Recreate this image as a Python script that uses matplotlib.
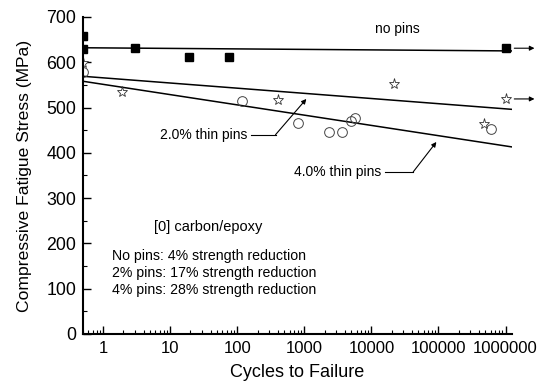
import matplotlib
matplotlib.use("Agg")
import matplotlib.pyplot as plt
from matplotlib.ticker import LogLocator, MultipleLocator, FixedLocator, NullFormatter

plt.rcParams['font.family'] = ['Liberation Sans', 'DejaVu Sans']

# Data
nopin_x = [0.5, 0.5, 3.0, 19, 76, 1.0e6]
nopin_y = [658, 629, 631, 612, 611, 631]
pin2_x = [0.5, 1.9, 410, 22000, 470000, 1.0e6]
pin2_y = [598, 534, 517, 552, 464, 519]
pin4_x = [0.5, 118, 810, 2300, 3700, 5000, 5600, 600000]
pin4_y = [579, 514, 466, 446, 446, 470, 477, 452]

fit_x = [0.5, 1.25e6]
nopin_fit = [632, 625]
pin2_fit = [569, 496]
pin4_fit = [558, 413]

xticks = [1, 10, 100, 1000, 10000, 100000, 1000000]
xticklabels = ['1', '10', '100', '1000', '10000', '100000', '1000000']

fig = plt.figure(figsize=(5.5, 3.89), dpi=100)
ax = fig.add_axes([0.151, 0.1414, 0.780, 0.815])

ax.plot(fit_x, nopin_fit, color='black', lw=1.1)
ax.plot(fit_x, pin2_fit, color='black', lw=1.1)
ax.plot(fit_x, pin4_fit, color='black', lw=1.1)

ax.plot(nopin_x, nopin_y, 's', color='black', ms=6, ls='none')
ax.plot(pin2_x, pin2_y, '*', mfc='white', mec='#333333', mew=0.6, ms=8, ls='none')
ax.plot(pin4_x, pin4_y, 'o', mfc='none', mec='#444444', mew=0.7, ms=7, ls='none')

ax.set_xscale('log')
ax.set_xlim(0.5, 1.25e6)
ax.set_ylim(0, 700)
ax.xaxis.set_major_locator(FixedLocator(xticks))
ax.set_xticklabels(xticklabels)
ax.xaxis.set_minor_locator(LogLocator(base=10, subs=range(2, 10), numticks=20))
ax.xaxis.set_minor_formatter(NullFormatter())
ax.yaxis.set_major_locator(MultipleLocator(100))
ax.yaxis.set_minor_locator(MultipleLocator(50))

for s in ['top', 'right']:
    ax.spines[s].set_visible(False)
for s in ['left', 'bottom']:
    ax.spines[s].set_linewidth(1.5)

ax.tick_params(which='major', direction='in', length=6, width=1.0, pad=5)
ax.tick_params(axis='x', which='major', labelsize=12)
ax.tick_params(axis='y', which='major', labelsize=12.8)
ax.tick_params(which='minor', direction='in', length=3, width=0.8)

ax.set_xlabel('Cycles to Failure', fontsize=13, labelpad=6)
ax.set_ylabel('Compressive Fatigue Stress (MPa)', fontsize=12.6, labelpad=10)

# runout arrows
ap = dict(arrowstyle='-|>', lw=0.8, color='black', mutation_scale=7, shrinkA=0, shrinkB=0)
ax.annotate('', xy=(2.7e6, 631), xytext=(1.35e6, 631), arrowprops=ap, annotation_clip=False)
ax.annotate('', xy=(2.7e6, 519), xytext=(1.35e6, 519), arrowprops=ap, annotation_clip=False)

# labels
ax.text(24500, 673, 'no pins', fontsize=10, ha='center', va='center')

ax.text(141, 440, '2.0% thin pins', fontsize=10, ha='right', va='center')
ax.plot([160, 371], [440, 440], color='black', lw=0.8)
ax.annotate('', xy=(1070, 519), xytext=(371, 440), arrowprops=ap)

ax.text(14000, 358, '4.0% thin pins', fontsize=10, ha='right', va='center')
ax.plot([16000, 42000], [358, 358], color='black', lw=0.8)
ax.annotate('', xy=(93000, 424), xytext=(42000, 358), arrowprops=ap)

ax.text(37, 236, '[0] carbon/epoxy', fontsize=10.5, ha='center', va='center')
ax.text(1.36, 172, 'No pins: 4% strength reduction', fontsize=10.2, ha='left', va='center')
ax.text(1.36, 135, '2% pins: 17% strength reduction', fontsize=10.2, ha='left', va='center')
ax.text(1.36, 97, '4% pins: 28% strength reduction', fontsize=10.2, ha='left', va='center')

fig.savefig('out.png', dpi=100)
